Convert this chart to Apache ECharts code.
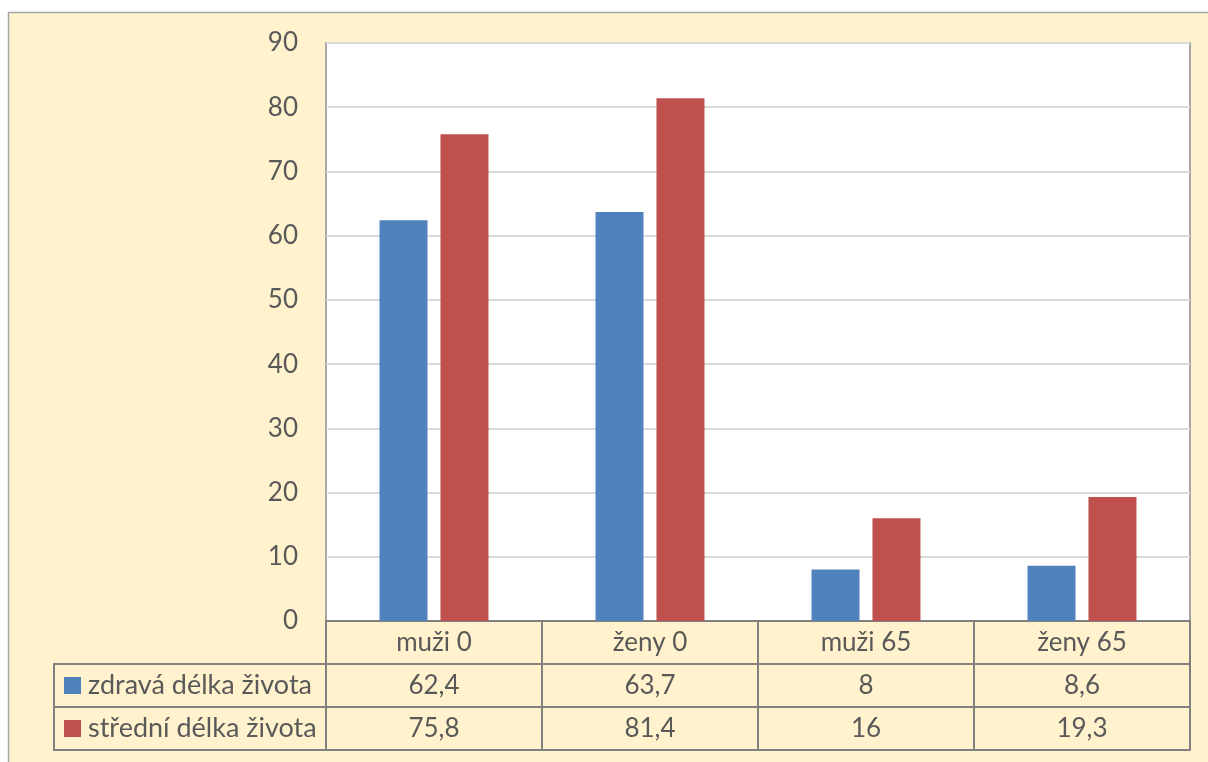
<!DOCTYPE html>
<html>
<head>
<meta charset="utf-8">
<script src="https://cdn.jsdelivr.net/npm/echarts@6/dist/echarts.min.js"></script>
<style>
  html, body { margin: 0; padding: 0; background: #ffffff; }
  #chart { width: 1208px; height: 762px; }
</style>
</head>
<body>
<div id="chart"></div>
<script>
// Categories (sex and age) and the two life-expectancy series
const categories = ['muži 0', 'ženy 0', 'muži 65', 'ženy 65'];
const healthyYears = [62.4, 63.7, 8, 8.6];
const totalYears = [75.8, 81.4, 16, 19.3];
const seriesNames = ['zdravá délka života', 'střední délka života'];
const yTicks = { min: 0, max: 90, step: 10 };

const FONT = 'Lato';
const TEXT = '#595959';
const LINE = '#808080';
const fmt = v => String(v).replace('.', ',');

const chart = echarts.init(document.getElementById('chart'));

const G = { left: 326, top: 43, width: 864, height: 578 };
const ROW = 43;
const LEGEND_FONT = 27;

// Data-table row axes: each one shares the category scale and sits one row lower
function tableAxis(offset, labels) {
  return {
    type: 'category',
    gridIndex: 0,
    position: 'bottom',
    offset: offset,
    data: labels,
    axisLine: { show: true, lineStyle: { color: LINE, width: 2 } },
    axisTick: { show: false },
    axisLabel: {
      show: labels.some(l => l !== ''),
      interval: 0,
      margin: ROW / 2,
      verticalAlign: 'middle',
      color: TEXT,
      fontFamily: FONT,
      fontSize: 26
    },
    splitLine: { show: false }
  };
}

chart.setOption({
  animation: false,
  backgroundColor: '#ffffff',
  textStyle: { fontFamily: FONT },
  graphic: [
    {
      type: 'rect', z: -10, silent: true,
      shape: { x: 8.5, y: 12.5, width: 1400, height: 900 },
      style: { fill: '#FFF2CC', stroke: '#A6A6A6', lineWidth: 1.5 }
    },
    {
      type: 'rect', z: 10, silent: true,
      shape: { x: 54, y: G.top + G.height + ROW, width: G.left - 54, height: ROW * 2 },
      style: { fill: 'none', stroke: LINE, lineWidth: 2 }
    },
    {
      type: 'line', z: 10, silent: true,
      shape: { x1: 54, y1: G.top + G.height + ROW * 2, x2: G.left, y2: G.top + G.height + ROW * 2 },
      style: { stroke: LINE, lineWidth: 2 }
    }
  ],
  legend: {
    orient: 'vertical',
    left: 64,
    top: G.top + G.height + ROW * 1.5 - LEGEND_FONT / 2,
    padding: 0,
    itemWidth: 17,
    itemHeight: 17,
    itemGap: ROW - LEGEND_FONT,
    icon: 'rect',
    textStyle: { color: TEXT, fontFamily: FONT, fontSize: LEGEND_FONT, padding: [0, 0, 0, 2] },
    data: seriesNames
  },
  grid: {
    left: G.left, top: G.top, width: G.width, height: G.height,
    show: true, backgroundColor: '#ffffff', borderColor: '#A6A6A6', borderWidth: 2
  },
  xAxis: [
    {
      type: 'category',
      data: categories,
      axisLine: { show: true, lineStyle: { color: LINE, width: 2 } },
      axisTick: { show: true, length: ROW * 3, lineStyle: { color: LINE, width: 2 } },
      axisLabel: {
        interval: 0, margin: ROW / 2, verticalAlign: 'middle',
        color: TEXT, fontFamily: FONT, fontSize: 26
      },
      splitLine: { show: false }
    },
    tableAxis(ROW, healthyYears.map(fmt)),
    tableAxis(ROW * 2, totalYears.map(fmt)),
    tableAxis(ROW * 3, categories.map(() => ''))
  ],
  yAxis: {
    type: 'value',
    min: yTicks.min, max: yTicks.max, interval: yTicks.step,
    axisLine: { show: false },
    axisTick: { show: false },
    axisLabel: { margin: 28, color: TEXT, fontFamily: FONT, fontSize: 26 },
    splitLine: { lineStyle: { color: '#D9D9D9', width: 2 } }
  },
  series: [
    {
      name: seriesNames[0], type: 'bar', data: healthyYears,
      barWidth: 48, barGap: '27%',
      itemStyle: { color: '#4F81BD' }
    },
    {
      name: seriesNames[1], type: 'bar', data: totalYears,
      barWidth: 48, barGap: '27%',
      itemStyle: { color: '#C0504D' }
    }
  ]
});
</script>
</body>
</html>
